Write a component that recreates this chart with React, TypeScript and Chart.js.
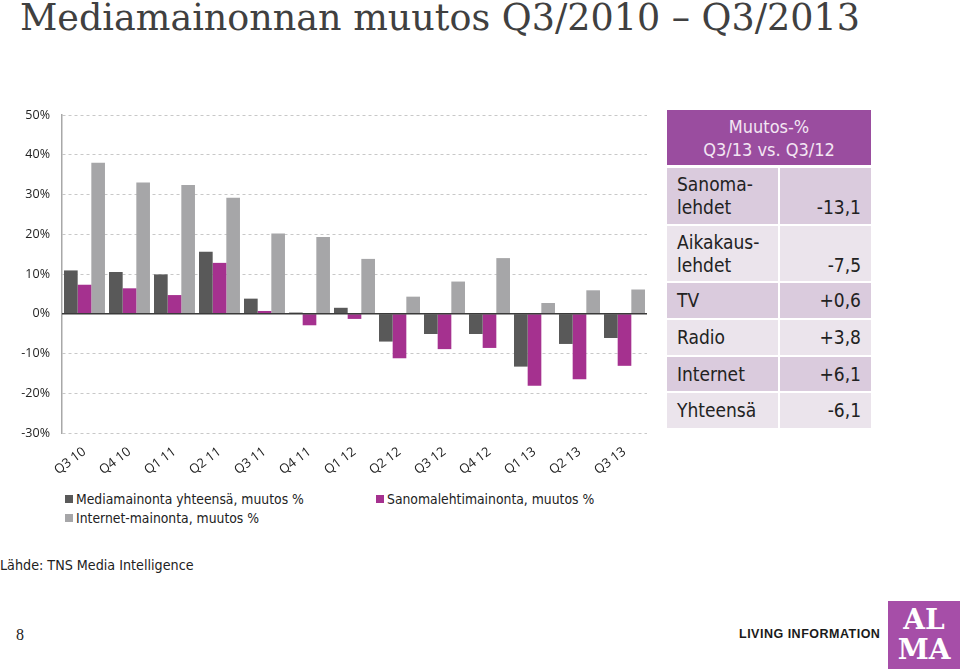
import React, { useEffect, useRef } from "react";
import { Chart, registerables } from "chart.js";

Chart.register(...registerables);

const title = "Mediamainonnan muutos Q3/2010 – Q3/2013";
const categories = ["Q3 10", "Q4 10", "Q1 11", "Q2 11", "Q3 11", "Q4 11", "Q1 12", "Q2 12", "Q3 12", "Q4 12", "Q1 13", "Q2 13", "Q3 13"];
const totalChange = [10.9, 10.5, 9.9, 15.6, 3.8, 0.3, 1.5, -7.0, -5.1, -5.1, -13.3, -7.6, -6.1];
const newspaperChange = [7.3, 6.4, 4.7, 12.8, 0.7, -2.9, -1.3, -11.2, -8.9, -8.6, -18.1, -16.5, -13.1];
const internetChange = [38.0, 33.0, 32.4, 29.2, 20.2, 19.3, 13.8, 4.3, 8.1, 14.0, 2.7, 5.9, 6.1];
const seriesNames = ["Mediamainonta yhteensä, muutos %", "Sanomalehtimainonta, muutos %", "Internet-mainonta, muutos %"];
const seriesColors = ["#595959", "#a5318f", "#a6a6a8"];
const yMin = -30;
const yMax = 50;
const yStep = 10;

const tableHeader = ["Muutos-%", "Q3/13 vs. Q3/12"];
const tableLabels = [["Sanoma-", "lehdet"], ["Aikakaus-", "lehdet"], ["TV"], ["Radio"], ["Internet"], ["Yhteensä"]];
const tableValues = ["-13,1", "-7,5", "+0,6", "+3,8", "+6,1", "-6,1"];
const sourceText = "Lähde: TNS Media Intelligence";
const pageNumber = "8";

const rowBoxes = [
  [168, 56],
  [226, 55],
  [283, 35],
  [320, 35],
  [357, 34],
  [393, 35],
];

const zeroLine = {
  id: "zeroLine",
  afterDatasetsDraw(chart: any) {
    const { ctx, chartArea, scales } = chart;
    const py = scales.y.getPixelForValue(0);
    ctx.save();
    ctx.strokeStyle = "#3a3a3a";
    ctx.lineWidth = 1.5;
    ctx.beginPath();
    ctx.moveTo(chartArea.left, py);
    ctx.lineTo(chartArea.right, py);
    ctx.stroke();
    ctx.restore();
  },
};

function BarChart() {
  const ref = useRef<HTMLCanvasElement | null>(null);
  useEffect(() => {
    if (!ref.current) return;
    const chart = new Chart(ref.current, {
      type: "bar",
      data: {
        labels: categories,
        datasets: [
          { label: seriesNames[0], data: totalChange, backgroundColor: seriesColors[0] },
          { label: seriesNames[1], data: newspaperChange, backgroundColor: seriesColors[1] },
          { label: seriesNames[2], data: internetChange, backgroundColor: seriesColors[2] },
        ],
      },
      options: {
        animation: false,
        responsive: false,
        maintainAspectRatio: false,
        datasets: { bar: { categoryPercentage: 0.91, barPercentage: 1.0 } },
        layout: { padding: { top: 15, right: 13, left: 0, bottom: 0 } },
        plugins: { legend: { display: false }, tooltip: { enabled: false } },
        scales: {
          x: {
            grid: { display: false },
            border: { display: false },
            ticks: {
              autoSkip: false,
              minRotation: 37,
              maxRotation: 37,
              padding: 3,
              color: "#222",
              font: { family: "'Open Sans'", size: 13 },
            },
            afterFit(scale: any) {
              scale.height = 50;
            },
          },
          y: {
            min: yMin,
            max: yMax,
            grid: { color: "#c8c8c8", lineWidth: 1, drawTicks: true, tickLength: 6, tickColor: "rgba(0,0,0,0)" },
            border: { display: true, color: "#a8a8a8", width: 1.5, dash: [3, 3] },
            ticks: {
              stepSize: yStep,
              padding: 6,
              color: "#222",
              font: { family: "'Open Sans'", size: 12.5 },
              callback: (v: any) => `${v}%`,
            },
            afterFit(scale: any) {
              scale.width = 62;
            },
          },
        },
      },
      plugins: [zeroLine],
    } as any);
    return () => chart.destroy();
  }, []);
  return <canvas ref={ref} width={660} height={383} style={{ display: "block" }} />;
}

export default function App() {
  const sans = "'DejaVu Sans Condensed', 'DejaVu Sans', sans-serif";
  return (
    <div style={{ position: "absolute", left: 0, top: 0, width: 960, height: 669, overflow: "hidden", background: "#fff" }}>
      <div
        style={{
          position: "absolute",
          left: 20,
          top: 0,
          fontFamily: "'DejaVu Serif', serif",
          fontSize: 36.5,
          lineHeight: "36px",
          color: "#404040",
          whiteSpace: "nowrap",
        }}
      >
        {title}
      </div>

      <div style={{ position: "absolute", left: 0, top: 100, width: 660, height: 383 }}>
        <BarChart />
      </div>

      {/* table */}
      <div
        style={{
          position: "absolute",
          left: 667,
          top: 110,
          width: 204,
          height: 55,
          background: "#9a4d9f",
          color: "#f3e6f3",
          fontFamily: sans,
          fontSize: 18,
          lineHeight: "23px",
          textAlign: "center",
          paddingTop: 5,
          boxSizing: "border-box",
        }}
      >
        <div>{tableHeader[0]}</div>
        <div>{tableHeader[1]}</div>
      </div>
      {tableLabels.map((lines, i) => {
        const [top, h] = rowBoxes[i];
        const bg = i % 2 === 0 ? "#dacbdd" : "#ebe4ec";
        const common: any = {
          position: "absolute",
          top,
          height: h,
          background: bg,
          fontFamily: sans,
          fontSize: 19,
          lineHeight: "23px",
          color: "#222",
          boxSizing: "border-box",
          display: "flex",
          flexDirection: "column",
          justifyContent: lines.length > 1 ? "flex-start" : "center",
          paddingTop: lines.length > 1 ? 5 : 0,
        };
        return (
          <React.Fragment key={i}>
            <div style={{ ...common, left: 667, width: 111, paddingLeft: 10 }}>
              {lines.map((l, j) => (
                <div key={j}>{l}</div>
              ))}
            </div>
            <div style={{ ...common, left: 780, width: 91, paddingRight: 10, textAlign: "right" }}>
              {lines.length > 1 && <div>&nbsp;</div>}
              <div>{tableValues[i]}</div>
            </div>
          </React.Fragment>
        );
      })}

      {/* legend */}
      {[
        [65, 499],
        [376, 499],
        [65, 518],
      ].map(([x, y], i) => (
        <div key={i} style={{ position: "absolute", left: x, top: y - 9, height: 18, display: "flex", alignItems: "center", whiteSpace: "nowrap" }}>
          <div style={{ width: 8, height: 8, background: seriesColors[i], marginRight: 3 }} />
          <span style={{ fontFamily: sans, fontSize: 13.8, color: "#222" }}>{seriesNames[i]}</span>
        </div>
      ))}

      <div style={{ position: "absolute", left: 0, top: 557, fontFamily: sans, fontSize: 14.2, color: "#222", whiteSpace: "nowrap" }}>
        {sourceText}
      </div>

      <div style={{ position: "absolute", left: 16, top: 626, fontFamily: "'Liberation Serif', serif", fontSize: 16, color: "#222" }}>
        {pageNumber}
      </div>

      <div
        style={{
          position: "absolute",
          left: 739,
          top: 627,
          fontFamily: "'Liberation Sans', Arial, sans-serif",
          fontWeight: "bold",
          fontSize: 12.5,
          color: "#1a1a1a",
          whiteSpace: "nowrap",
          letterSpacing: 0.5,
        }}
      >
        LIVING INFORMATION
      </div>
      <div
        style={{
          position: "absolute",
          left: 888,
          top: 601,
          width: 72,
          height: 68,
          background: "#a64ea8",
          color: "#fff",
          fontFamily: "'DejaVu Serif', serif",
          fontWeight: "bold",
          fontSize: 28,
          lineHeight: "30px",
          textAlign: "center",
          paddingTop: 4,
          boxSizing: "border-box",
        }}
      >
        <div>AL</div>
        <div>MA</div>
      </div>
    </div>
  );
}
